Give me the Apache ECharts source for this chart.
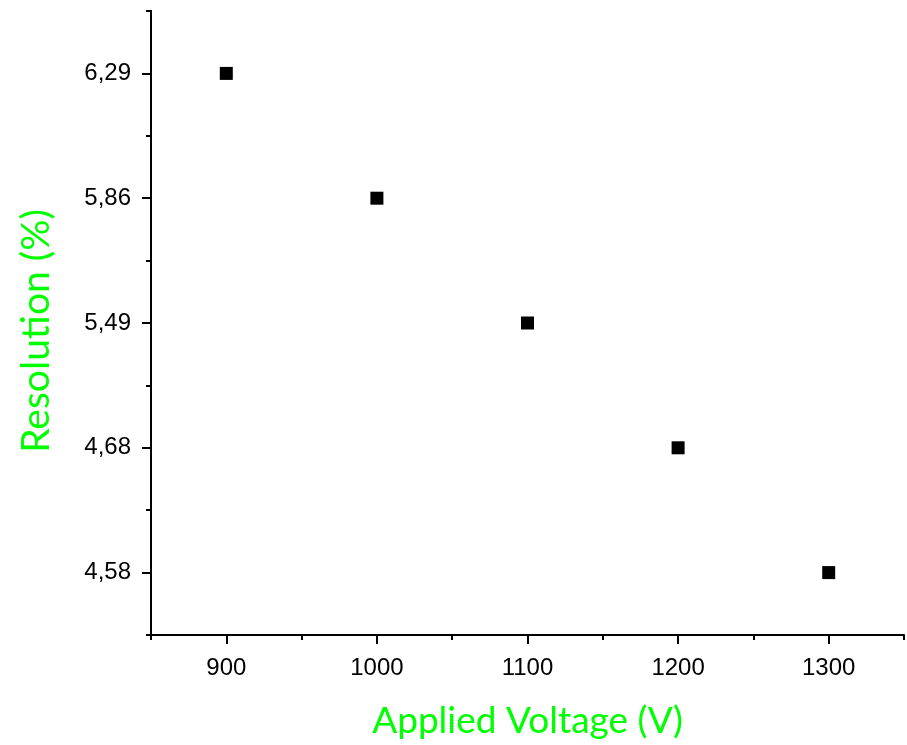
<!DOCTYPE html>
<html><head><meta charset="utf-8">
<script src="https://cdn.jsdelivr.net/npm/echarts@6/dist/echarts.min.js"></script>
<style>html,body{margin:0;padding:0;background:#fff}#c{width:907px;height:745px}</style>
</head><body><div id="c"></div>
<script>
const voltages = [900, 1000, 1100, 1200, 1300];
const resolutions = ['6,29', '5,86', '5,49', '4,68', '4,58'];
const yCategories = ['4,58', '4,68', '5,49', '5,86', '6,29'];
const xTickSteps = ['850', '900', '950', '1000', '1050', '1100', '1150', '1200', '1250', '1300', '1350'];

const chart = echarts.init(document.getElementById('c'));
const labelFont = {fontFamily: 'Liberation Sans, Arial', fontSize: 24, color: '#000'};
const lineStyle = {color: '#000', width: 2};
chart.setOption({
  animation: false,
  grid: {left: 151, right: 3, top: 11, bottom: 110, containLabel: false},
  xAxis: [{
    type: 'value', min: 850, max: 1350, interval: 50,
    axisLine: {lineStyle: lineStyle},
    axisTick: {show: true, length: 5, lineStyle: lineStyle},
    axisLabel: Object.assign({margin: 21, formatter: v => (v % 100 === 0 ? String(v) : '')}, labelFont),
    splitLine: {show: false},
    name: 'Applied Voltage (V)', nameLocation: 'middle', nameGap: 68,
    nameTextStyle: {fontFamily: 'Lato, Open Sans', fontSize: 37, color: '#00ff00'}
  }, {
    type: 'category', data: xTickSteps, boundaryGap: false, position: 'bottom',
    axisLine: {show: true, lineStyle: lineStyle},
    axisTick: {show: true, length: 9, lineStyle: lineStyle, interval: (i) => i % 2 === 1},
    axisLabel: {show: false},
    splitLine: {show: false}
  }],
  yAxis: [{
    type: 'category', data: yCategories, boundaryGap: true,
    axisLine: {lineStyle: lineStyle},
    axisTick: {show: true, alignWithLabel: true, length: 9, lineStyle: lineStyle},
    axisLabel: Object.assign({margin: 20}, labelFont),
    splitLine: {show: false},
    name: 'Resolution (%)', nameLocation: 'middle', nameGap: 95,
    nameTextStyle: {fontFamily: 'Lato, Open Sans', fontSize: 39, color: '#00ff00', padding: [0, 16, 0, 0]}
  }, {
    type: 'category', data: yCategories, boundaryGap: true, position: 'left',
    axisLine: {show: true, lineStyle: lineStyle},
    axisTick: {show: true, alignWithLabel: false, length: 5, lineStyle: lineStyle},
    axisLabel: {show: false},
    splitLine: {show: false}
  }],
  series: [{
    type: 'scatter', xAxisIndex: 0, yAxisIndex: 0,
    symbol: 'rect', symbolSize: 13,
    itemStyle: {color: '#000', opacity: 1},
    data: voltages.map((v, i) => [v, resolutions[i]])
  }]
});
</script></body></html>
